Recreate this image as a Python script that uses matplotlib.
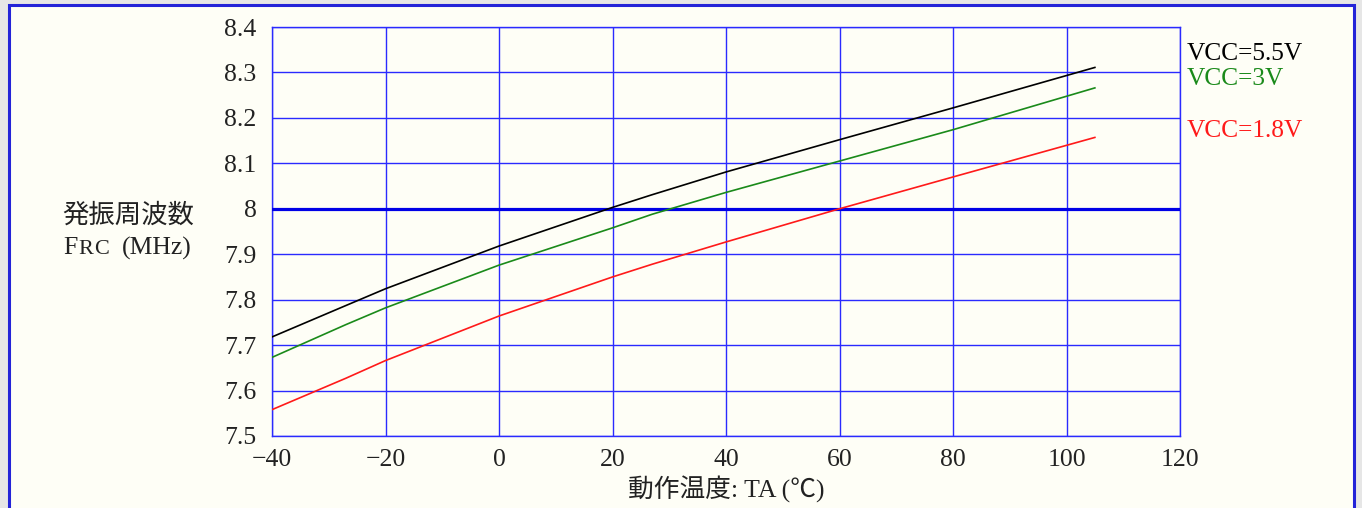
import matplotlib.pyplot as plt
from matplotlib.patches import Rectangle
import matplotlib.transforms as mtransforms

# temperature (degC) and oscillation frequency (MHz) per supply voltage
temp = [-40, -27, -20, 0, 20, 27, 40, 60, 80, 105]
f_55v = [7.718, 7.787, 7.824, 7.918, 8.003, 8.031, 8.081, 8.152, 8.222, 8.311]
f_3v = [7.673, 7.745, 7.782, 7.876, 7.958, 7.988, 8.036, 8.105, 8.174, 8.266]
f_18v = [7.558, 7.627, 7.666, 7.764, 7.850, 7.878, 7.927, 8.000, 8.070, 8.157]

series_labels = ["VCC=5.5V", "VCC=3V", "VCC=1.8V"]
label_y = [8.341, 8.286, 8.172]

x_ticks = [-40, -20, 0, 20, 40, 60, 80, 100, 120]
y_ticks = [7.5, 7.6, 7.7, 7.8, 7.9, 8.0, 8.1, 8.2, 8.3, 8.4]
y_ticklabels = ["7.5", "7.6", "7.7", "7.8", "7.9", "8", "8.1", "8.2", "8.3", "8.4"]

W, H = 1362, 508
serif = ["Liberation Serif", "Noto Sans CJK JP"]
cream = "#fefef6"
grid_blue = "#2a2aff"
ink = "#222222"

fig = plt.figure(figsize=(W / 100, H / 100), dpi=100)
fig.patch.set_facecolor("#e6e6e6")

# outer panel with blue frame (behind everything)
panel = Rectangle((8.5 / W, -0.05), 1345.5 / W, 1.05 - 5 / H,
                  transform=fig.transFigure, facecolor=cream,
                  edgecolor="#2323d8", linewidth=2.2, zorder=-10)
fig.patches.append(panel)

ax = fig.add_axes([272 / W, 72 / H, 908 / W, 409 / H])
ax.set_facecolor(cream)
ax.set_xlim(-40, 120)
ax.set_ylim(7.5, 8.4)

ax.set_xticks(x_ticks)
ax.set_xticklabels(["\u2212" + str(-t) if t < 0 else str(t) for t in x_ticks])
ax.set_yticks(y_ticks)
ax.set_yticklabels(y_ticklabels)
ax.tick_params(length=0, labelsize=18.5, colors=ink)
ax.tick_params(axis="x", pad=9)
ax.tick_params(axis="y", pad=11)
for lab in ax.get_xticklabels() + ax.get_yticklabels():
    lab.set_family(serif)

ax.grid(True, color=grid_blue, linewidth=1.0)
for s in ax.spines.values():
    s.set_color(grid_blue)
    s.set_linewidth(1.0)

# 8 MHz reference line
ax.axhline(8.0, color="#0000e6", linewidth=2.3, zorder=3)

colors = ["black", "#1a8a1a", "#ff1a1a"]
for ys, c in zip([f_55v, f_3v, f_18v], colors):
    ax.plot(temp, ys, color=c, linewidth=1.2, zorder=4)

trans = mtransforms.blended_transform_factory(ax.transAxes, ax.transData)
for lab, yv, c in zip(series_labels, label_y, colors):
    ax.text(1.0077, yv, lab, transform=trans, color=c, fontsize=18.3,
            family=serif, va="center", ha="left", clip_on=False)

# y axis label (two lines, "RC" in smaller caps)
fig.text(128 / W, 1 - 215 / H, "発振周波数", fontsize=19, ha="center",
         va="center", family=serif, color=ink)
fig.text(63 / W, 1 - 248 / H, "F", fontsize=18.5, ha="left", va="center",
         family=serif, color=ink)
fig.text(78 / W, 1 - 249.5 / H, "R", fontsize=16, ha="left", va="center",
         family=serif, color=ink)
fig.text(94 / W, 1 - 249.5 / H, "C", fontsize=16, ha="left", va="center",
         family=serif, color=ink)
fig.text(192 / W, 1 - 248 / H, "(MHz)", fontsize=18.5, ha="right", va="center",
         family=serif, color=ink)

# x axis label
fig.text(726 / W, 1 - 489 / H, "動作温度: TA (℃)", fontsize=18.5, ha="center",
         va="center", family=serif, color=ink)

fig.savefig("out.png", dpi=100, facecolor=fig.get_facecolor())
